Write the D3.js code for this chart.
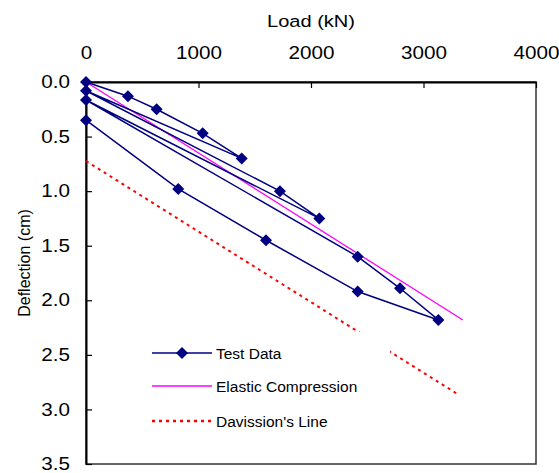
<!DOCTYPE html>
<html>
<head>
<meta charset="utf-8">
<script src="https://cdn.jsdelivr.net/npm/d3@7"></script>
<style>
	body { margin: 0; background: #fff; }
	text { font-family: "Liberation Sans", Arial, sans-serif; fill: #000; }
</style>
</head>
<body>
<svg id="chart" width="559" height="473"></svg>
<script>
// test data, in the order the load cycles were run (kN, cm)
var test_load = [0, 373, 628, 1037, 1384, 0, 1724, 2074, 0, 2415, 2791, 3132, 2415, 1600, 820, 0];
var test_defl = [0, 0.13, 0.25, 0.47, 0.70, 0.08, 1.00, 1.25, 0.165, 1.60, 1.89, 2.18, 1.92, 1.45, 0.98, 0.35];

// elastic compression line
var elastic_load = [0, 3350];
var elastic_defl = [0, 2.18];

// davisson's line
var davisson_load = [0, 3316];
var davisson_defl = [0.724, 2.868];

var x_ticks = [0, 1000, 2000, 3000, 4000];
var y_ticks = [0, 0.5, 1.0, 1.5, 2.0, 2.5, 3.0, 3.5];
var legend_names = ["Test Data", "Elastic Compression", "Davission's Line"];

(function(){
	var svg = d3.select("#chart");

	var left = 86, right = 536, top = 82, bottom = 464;
	var stretch = 1.18; // the horizontal labels look a bit wide in the original

	var xscale = d3.scaleLinear().domain([0, 4000]).range([left, right]);
	var yscale = d3.scaleLinear().domain([0, 3.5]).range([top, bottom]);

	var navy = "#000080";

	// plot area border
	svg.append("rect")
		.attr("x", left).attr("y", top)
		.attr("width", right - left).attr("height", bottom - top)
		.attr("fill", "none")
		.attr("stroke", "#333")
		.attr("stroke-width", 1.5);

	// axes, ticks point inwards
	var xaxis = d3.axisTop(xscale)
		.tickValues(x_ticks)
		.tickFormat(d3.format("d"))
		.tickSizeInner(-6)
		.tickSizeOuter(0)
		.tickPadding(23);

	var yaxis = d3.axisLeft(yscale)
		.tickValues(y_ticks)
		.tickFormat(d3.format(".1f"))
		.tickSizeInner(-6)
		.tickSizeOuter(0)
		.tickPadding(16);

	var gX = svg.append("g")
		.attr("transform", "translate(0," + top + ")")
		.call(xaxis);
	var gY = svg.append("g")
		.attr("transform", "translate(" + left + ",0)")
		.call(yaxis);

	[gX, gY].forEach(function(g){
		g.select(".domain").attr("stroke", "#000").attr("stroke-width", 2);
		g.selectAll(".tick line").attr("stroke", "#000").attr("stroke-width", 1.2);
		g.selectAll(".tick text")
			.style("font-family", "'Liberation Sans', Arial, sans-serif")
			.style("font-size", "17.5px")
			.attr("fill", "#000")
			.attr("transform", "scale(" + stretch + ",1)");
	});
	gY.selectAll(".tick text").attr("x", -16 / stretch);

	// axis titles
	svg.append("text")
		.attr("transform", "translate(311,27) scale(" + stretch + ",1)")
		.attr("text-anchor", "middle")
		.style("font-size", "17px")
		.text("Load (kN)");

	svg.append("text")
		.attr("transform", "translate(30,263) rotate(-90)")
		.attr("text-anchor", "middle")
		.style("font-size", "16px")
		.text("Deflection (cm)");

	var line = d3.line()
		.x(function(d){ return xscale(d[0]); })
		.y(function(d){ return yscale(d[1]); });

	// davisson's line
	svg.append("path")
		.datum(d3.zip(davisson_load, davisson_defl))
		.attr("d", line)
		.attr("fill", "none")
		.attr("stroke", "#ff0000")
		.attr("stroke-width", 2)
		.attr("stroke-dasharray", "3,4");

	// elastic compression
	svg.append("path")
		.datum(d3.zip(elastic_load, elastic_defl))
		.attr("d", line)
		.attr("fill", "none")
		.attr("stroke", "#ff00ff")
		.attr("stroke-width", 1.3);

	// test data
	var test_pts = d3.zip(test_load, test_defl);
	svg.append("path")
		.datum(test_pts)
		.attr("d", line)
		.attr("fill", "none")
		.attr("stroke", navy)
		.attr("stroke-width", 1.5);

	var diamond = "M0,-6L6,0L0,6L-6,0Z";
	svg.append("g").selectAll("path")
		.data(test_pts)
		.enter().append("path")
			.attr("d", diamond)
			.attr("transform", function(d){ return "translate(" + xscale(d[0]) + "," + yscale(d[1]) + ")"; })
			.attr("fill", navy);

	// legend, white box covers part of davisson's line
	var lg = svg.append("g");
	lg.append("rect")
		.attr("x", 140).attr("y", 332)
		.attr("width", 250).attr("height", 108)
		.attr("fill", "#fff");

	var rows = [353, 386, 421];
	var row_styles = [
		{ stroke: navy, width: 1.5, dash: null },
		{ stroke: "#ff00ff", width: 1.3, dash: null },
		{ stroke: "#ff0000", width: 2.5, dash: "3,4" }
	];

	lg.selectAll("line.entry")
		.data(legend_names)
		.enter().append("line")
			.attr("class", "entry")
			.attr("x1", 152).attr("x2", 212)
			.attr("y1", function(d, i){ return rows[i]; })
			.attr("y2", function(d, i){ return rows[i]; })
			.attr("stroke", function(d, i){ return row_styles[i].stroke; })
			.attr("stroke-width", function(d, i){ return row_styles[i].width; })
			.attr("stroke-dasharray", function(d, i){ return row_styles[i].dash; });

	lg.append("path")
		.attr("d", diamond)
		.attr("transform", "translate(182," + rows[0] + ")")
		.attr("fill", navy);

	lg.selectAll("text")
		.data(legend_names)
		.enter().append("text")
			.attr("x", 216)
			.attr("y", function(d, i){ return rows[i]; })
			.attr("dy", "0.36em")
			.style("font-size", "15.5px")
			.text(function(d){ return d; });
})();
</script>
</body>
</html>
